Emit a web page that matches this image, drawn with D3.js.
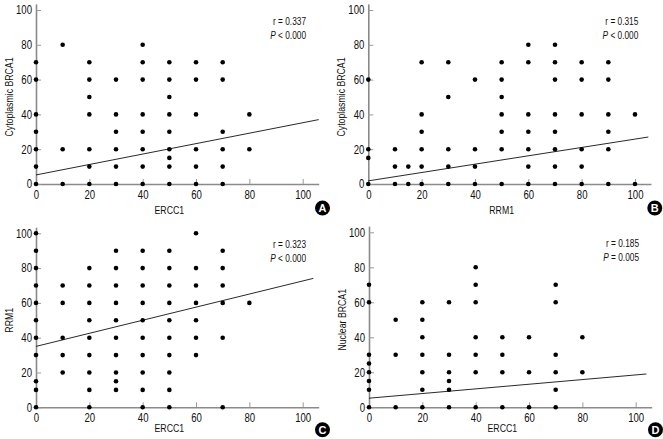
<!DOCTYPE html>
<html><head><meta charset="utf-8">
<script src="https://cdn.jsdelivr.net/npm/d3@7"></script>
<style>
body{margin:0;background:#fff}
svg text{font-family:"Liberation Sans",Arial,Helvetica,sans-serif;fill:#111}
</style></head><body><svg id="c" width="663" height="439"></svg>
<script>
// ---------- data ----------
const tickValues = [0, 20, 40, 60, 80, 100];
const xTitles = ["ERCC1", "RRM1", "ERCC1", "ERCC1"];
const yTitles = ["Cytoplasmic BRCA1", "Cytoplasmic BRCA1", "RRM1", "Nuclear BRCA1"];
const panelLabels = ["A", "B", "C", "D"];
const rValues = ["0.337", "0.315", "0.323", "0.185"];
const pSigns = ["<", "<", "<", "="];
const pValues = ["0.000", "0.000", "0.000", "0.005"];
const intercepts = [5.2, 1.8, 35, 5.2];
const slopes = [0.30, 0.24, 0.376, 0.133];
const lineEnds = [106, 105, 104, 104];

const pointsA = [
  [0,70],[0,60],[0,40],[0,30],[0,20],[0,10],[0,0],
  [10,80],[10,20],[10,0],
  [20,70],[20,60],[20,50],[20,40],[20,20],[20,10],[20,0],
  [30,60],[30,40],[30,30],[30,20],[30,10],[30,0],
  [40,80],[40,70],[40,60],[40,40],[40,30],[40,20],[40,10],[40,0],
  [50,70],[50,60],[50,50],[50,40],[50,30],[50,20],[50,15],[50,10],[50,0],
  [60,70],[60,60],[60,40],[60,20],[60,10],[60,0],
  [70,70],[70,60],[70,30],[70,20],[70,10],[70,0],
  [80,40],[80,20]
];
const pointsB = [
  [0,60],[0,20],[0,15],[0,0],
  [10,20],[10,10],[10,0],
  [15,10],[15,0],
  [20,70],[20,40],[20,30],[20,20],[20,10],[20,0],
  [30,70],[30,50],[30,20],[30,10],[30,0],
  [40,60],[40,20],[40,10],[40,0],
  [50,70],[50,60],[50,50],[50,40],[50,30],[50,20],[50,0],
  [60,80],[60,70],[60,40],[60,30],[60,20],[60,10],[60,0],
  [70,80],[70,70],[70,60],[70,40],[70,30],[70,20],[70,10],[70,0],
  [80,70],[80,60],[80,40],[80,20],[80,10],[80,0],
  [90,70],[90,60],[90,40],[90,30],[90,20],[90,0],
  [100,40],[100,0]
];
const pointsC = [
  [0,100],[0,90],[0,80],[0,70],[0,60],[0,50],[0,40],[0,30],[0,15],[0,10],[0,0],
  [10,70],[10,60],[10,40],[10,30],[10,20],
  [20,80],[20,70],[20,60],[20,50],[20,40],[20,30],[20,20],[20,10],[20,0],
  [30,90],[30,80],[30,70],[30,60],[30,50],[30,40],[30,30],[30,20],[30,15],[30,10],
  [40,90],[40,80],[40,70],[40,60],[40,50],[40,40],[40,30],[40,20],[40,10],[40,0],
  [50,90],[50,80],[50,70],[50,60],[50,50],[50,40],[50,30],[50,20],[50,10],[50,0],
  [60,100],[60,80],[60,70],[60,60],[60,50],[60,40],[60,30],
  [70,90],[70,80],[70,70],[70,60],[70,40],[70,0],
  [80,60]
];
const pointsD = [
  [0,70],[0,60],[0,30],[0,25],[0,20],[0,15],[0,10],[0,0],
  [10,50],[10,30],[10,0],
  [20,60],[20,50],[20,40],[20,30],[20,20],[20,10],[20,0],
  [30,60],[30,30],[30,20],[30,15],[30,10],[30,0],
  [40,80],[40,70],[40,60],[40,40],[40,30],[40,20],[40,0],
  [50,40],[50,30],[50,20],[50,0],
  [60,40],[60,20],[60,0],
  [70,70],[70,60],[70,30],[70,20],[70,10],[70,0],
  [80,40],[80,20]
];
const allPoints = [pointsA, pointsB, pointsC, pointsD];

// ---------- layout ----------
const layout = [
  {x0: 36,    x100: 302.7, y0: 184,   y100: 10,    titleDy: 30, labDy: 24},
  {x0: 368.3, x100: 635,   y0: 184,   y100: 10,    titleDy: 30, labDy: 24},
  {x0: 36,    x100: 302.7, y0: 407.3, y100: 233.3, titleDy: 25, labDy: 22.5},
  {x0: 369,   x100: 635.7, y0: 407.3, y100: 232.3, titleDy: 25, labDy: 22.5}
];

// horizontal condensing of Liberation Sans to mimic a condensed face
function condense(sel, k) {
  sel.each(function () {
    const t = d3.select(this);
    const xv = +(t.attr("x") || 0);
    const prev = t.attr("transform") || "";
    t.attr("x", xv / k).attr("transform", (prev + ` scale(${k},1)`).trim());
  });
}

const svg = d3.select("#c");

layout.forEach((L, i) => {
  const x = d3.scaleLinear().domain([0, 100]).range([L.x0, L.x100]);
  const y = d3.scaleLinear().domain([0, 100]).range([L.y0, L.y100]);
  const g = svg.append("g");

  const xAxis = d3.axisBottom(x.copy().domain([0, 106]).range([L.x0, x(106)]))
    .tickValues(tickValues).tickSizeInner(-5).tickSizeOuter(0).tickPadding(6);
  const yAxis = d3.axisLeft(y.copy().domain([0, 103.5]).range([L.y0, y(103.5)]))
    .tickValues(tickValues).tickSizeInner(-5).tickSizeOuter(0).tickPadding(4);

  const gx = g.append("g").attr("transform", `translate(0,${L.y0})`).call(xAxis);
  const gy = g.append("g").attr("transform", `translate(${L.x0},0)`).call(yAxis);
  [gx, gy].forEach(a => {
    a.attr("font-family", null).attr("font-size", null);
    a.select(".domain").attr("stroke", "#8a8a8a").attr("stroke-width", 1.6);
    a.selectAll(".tick line").attr("stroke", "#9a9a9a").attr("stroke-width", 1);
    const tt = a.selectAll(".tick text").attr("font-size", 12).attr("fill", "#111");
    condense(tt, 0.8);
  });

  // regression line
  g.append("line")
    .attr("x1", x(0)).attr("y1", y(intercepts[i]))
    .attr("x2", x(lineEnds[i])).attr("y2", y(intercepts[i] + slopes[i] * lineEnds[i]))
    .attr("stroke", "#111").attr("stroke-width", 0.9);

  // points
  g.selectAll("circle.pt").data(allPoints[i]).join("circle")
    .attr("class", "pt")
    .attr("cx", d => x(d[0])).attr("cy", d => y(d[1])).attr("r", 2.3)
    .attr("fill", "#000");

  // axis titles
  const xt = g.append("text").attr("x", x(50)).attr("y", L.y0 + L.titleDy)
    .attr("text-anchor", "middle").attr("font-size", 11.5).text(xTitles[i]);
  condense(xt, 0.76);
  const yt = g.append("text")
    .attr("transform", `translate(${L.x0 - 23},${(L.y0 + L.y100) / 2}) rotate(-90)`)
    .attr("text-anchor", "middle").attr("font-size", 11.5).text(yTitles[i]);
  condense(yt, 0.76);

  // stats
  const sx = L.x0 + 270;
  const r = g.append("text").attr("x", sx).attr("y", L.y100 + 15).attr("text-anchor", "end")
    .attr("font-size", 10.5).text("r = " + rValues[i]);
  condense(r, 0.79);
  const t = g.append("text").attr("x", sx).attr("y", L.y100 + 29).attr("text-anchor", "end")
    .attr("font-size", 10.5);
  t.append("tspan").attr("font-style", "italic").text("P");
  t.append("tspan").text(" " + pSigns[i] + " " + pValues[i]);
  condense(t, 0.79);

  // panel label
  const cx = L.x0 + 286.5, cy = L.y0 + L.labDy;
  g.append("circle").attr("cx", cx).attr("cy", cy).attr("r", 7.5).attr("fill", "#000");
  g.append("text").attr("x", cx).attr("y", cy + 4).attr("text-anchor", "middle")
    .attr("font-size", 11).attr("font-weight", "bold")
    .style("fill", "#fff")
    .text(panelLabels[i]);
});
</script></body></html>
